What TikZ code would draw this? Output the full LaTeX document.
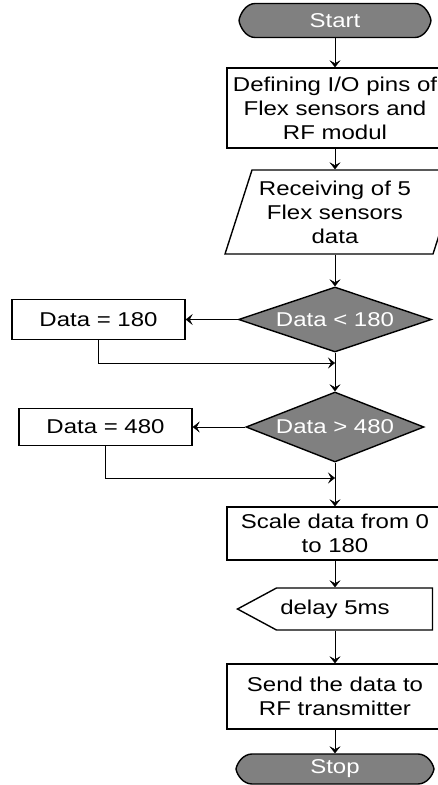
\documentclass[tikz,border=0pt]{standalone}
\usepackage{fontspec}
\setmainfont{Liberation Sans}[FakeStretch=1.2]
\usetikzlibrary{shapes.geometric,arrows.meta,backgrounds}
\definecolor{termgray}{RGB}{128,128,128}
\tikzset{outl/.style={line width=1.4pt, line join=miter}}
\newcommand\myterm[4]{%
  \draw[outl, fill=termgray, shift={(#1.center)}] (-#2,0)
    .. controls (-#2+1,-#3*0.4) and (-#2+#4*0.45,-#3) .. (-#2+#4,-#3)
    -- (#2-#4,-#3)
    .. controls (#2-#4*0.45,-#3) and (#2-1,-#3*0.4) .. (#2,0)
    .. controls (#2-1,#3*0.4) and (#2-#4*0.45,#3) .. (#2-#4,#3)
    -- (-#2+#4,#3)
    .. controls (-#2+#4*0.45,#3) and (-#2+1,#3*0.4) .. cycle;}
\begin{document}
\begin{tikzpicture}[x=1pt,y=-1pt, line width=1.4pt,
  every node/.style={font=\fontsize{20}{24}\selectfont, inner sep=0pt, align=center},
  proc/.style={draw, rectangle, minimum width=216pt},
  dec/.style={draw, diamond, fill=termgray, text=white, aspect=3},
  term/.style={rectangle, text=white},
  ghost/.style={rectangle},
  flow/.style={-{Stealth[length=7pt,width=11pt,inset=3pt]}},
]
\useasboundingbox (0,0) rectangle (438,785);

\node[term, minimum width=192pt, minimum height=34pt] (start) at (335,20.5) {Start};
\node[proc, minimum height=80pt] (def) at (335,108) {Defining I/O pins of\\Flex sensors and\\RF modul};
\node[ghost, minimum width=208pt, minimum height=84pt] (recv) at (335,212) {Receiving of 5\\Flex sensors\\data};
\node[dec, minimum width=193pt, minimum height=65pt] (d1) at (335,319.5) {Data < 180};
\node[proc, minimum width=173pt, minimum height=40pt] (b180) at (98.5,319.5) {Data = 180};
\coordinate (j1) at (335,363);
\node[dec, minimum width=178pt, minimum height=70pt] (d2) at (335,427) {Data > 480};
\node[proc, minimum width=173pt, minimum height=37pt] (b480) at (105.5,427) {Data = 480};
\coordinate (j2) at (335,478);
\node[proc, minimum height=53pt] (scale) at (335,533.5) {Scale data from 0\\to 180};
\node[ghost, minimum width=195pt, minimum height=42pt] (delay) at (335,609) {delay 5ms};
\node[proc, minimum height=65pt] (send) at (335,696.5) {Send the data to\\RF transmitter};
\node[term, minimum width=198pt, minimum height=30pt] (stop) at (335,769) {Stop};

\begin{pgfonlayer}{background}
  \fill[white] (0,0) rectangle (438,785);
  \myterm{start}{96}{17}{16}
  \myterm{stop}{99}{15}{16}
  \draw[outl, shift={(recv.center)}] (-110,42) -- (-83,-42) -- (125,-42) -- (98,42) -- cycle;
  \draw[outl, shift={(delay.center)}] (-97.5,0) -- (-58.5,-21) -- (97.5,-21) -- (97.5,21) -- (-58.5,21) -- cycle;
\end{pgfonlayer}

\draw[flow] (start) -- (def);
\draw[flow] (def) -- (recv);
\draw[flow] (recv) -- (d1);
\draw[flow] (d1) -- (b180);
\draw[flow] (b180.south) |- (j1);
\draw[flow] (d1) -- (d2);
\draw[flow] (d2) -- (b480);
\draw[flow] (b480.south) |- (j2);
\draw[flow] (d2) -- (scale);
\draw[flow] (scale) -- (delay);
\draw[flow] (delay) -- (send);
\draw[flow] (send) -- (stop);
\end{tikzpicture}
\end{document}
